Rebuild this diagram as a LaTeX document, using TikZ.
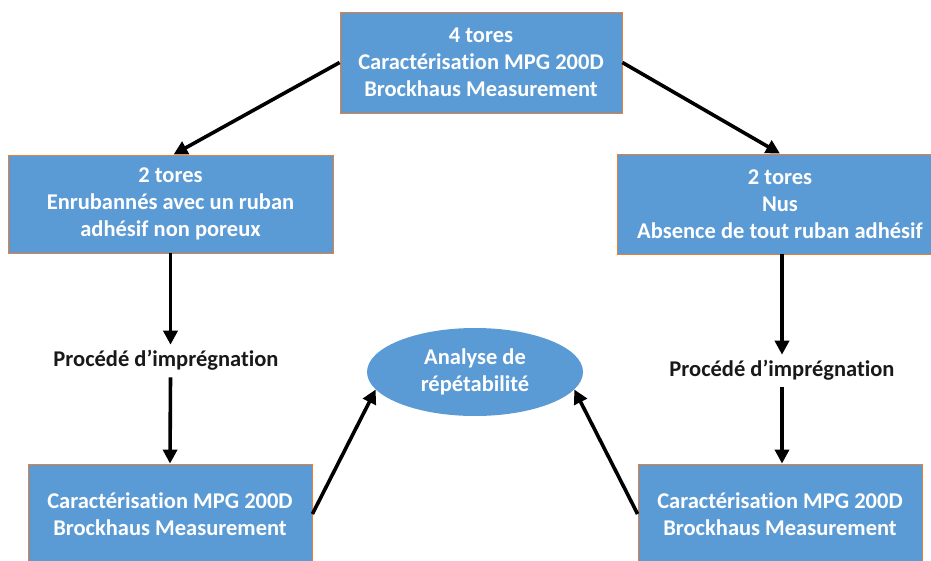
\documentclass[tikz,border=0pt]{standalone}
\usepackage{fontspec}
\setmainfont{Carlito}[Ligatures=NoCommon]
\usepackage{tikz}
\usetikzlibrary{arrows.meta,positioning,shapes.geometric}

\definecolor{boxblue}{HTML}{5B9BD5}
\definecolor{boxedge}{HTML}{ED7D31}

\begin{document}
\begin{tikzpicture}[
  x=1pt, y=-1pt,
  box/.style={rectangle, fill=boxblue, draw=boxedge, line width=0.8pt,
              text=white, font=\fontsize{22.5}{27}\selectfont\bfseries,
              align=center, inner sep=0pt},
  oval/.style={ellipse, fill=boxblue, text=white, inner sep=0pt,
               font=\fontsize{22.5}{27}\selectfont\bfseries, align=center,
               minimum width=216pt, minimum height=88pt},
  steplabel/.style={font=\fontsize{22.5}{26}\selectfont\bfseries,
                    text=black!90, inner sep=2pt},
  arr/.style={line width=3.6pt, -{Triangle[width=14pt,length=14pt]}},
]
\clip (0,0) rectangle (931,561);
\useasboundingbox (0,0) rectangle (931,561);

% Boxes
\node[box, minimum width=282pt, minimum height=101pt] (top) at (481,62.5)
  {4 tores\\Caractérisation MPG 200D\\Brockhaus Measurement};
\node[box, minimum width=325pt, minimum height=98pt] (left) at (170.5,204)
  {2 tores\\Enrubannés avec un ruban\\adhésif non poreux};
\node[box, minimum width=326pt, minimum height=100pt] (right) at (780,204)
  {2 tores\\Nus\\Absence de tout ruban adhésif};
\node[box, minimum width=284pt, minimum height=100pt] (botleft) at (170,514)
  {Caractérisation MPG 200D\\Brockhaus Measurement};
\node[box, minimum width=284pt, minimum height=100pt] (botright) at (780,514)
  {Caractérisation MPG 200D\\Brockhaus Measurement};
\node[oval] (ana) at (475,372) {Analyse de\\répétabilité};

% Labels
\node[steplabel] (implft) at (166,360) {Procédé d’imprégnation};
\node[steplabel] (imprgt) at (782,370) {Procédé d’imprégnation};

% Arrows
\draw[arr] (top.west) -- ([xshift=3pt]left.north);
\draw[arr] (top.east) -- (right.north);
\draw[arr] (left.south) -- ([yshift=3pt]left.south |- implft.north);
\draw[arr] ([yshift=-5pt]left.south |- implft.south) -- (botleft.north);
\draw[arr] ([xshift=2pt]right.south) -- ([xshift=2pt,yshift=3pt]right.south |- imprgt.north);
\draw[arr] ([xshift=2pt,yshift=-5pt]right.south |- imprgt.south) -- ([xshift=2pt]botright.north);
\draw[arr] (botleft.east) -- (ana.190);
\draw[arr] (botright.west) -- (ana.-10);

\end{tikzpicture}
\end{document}
